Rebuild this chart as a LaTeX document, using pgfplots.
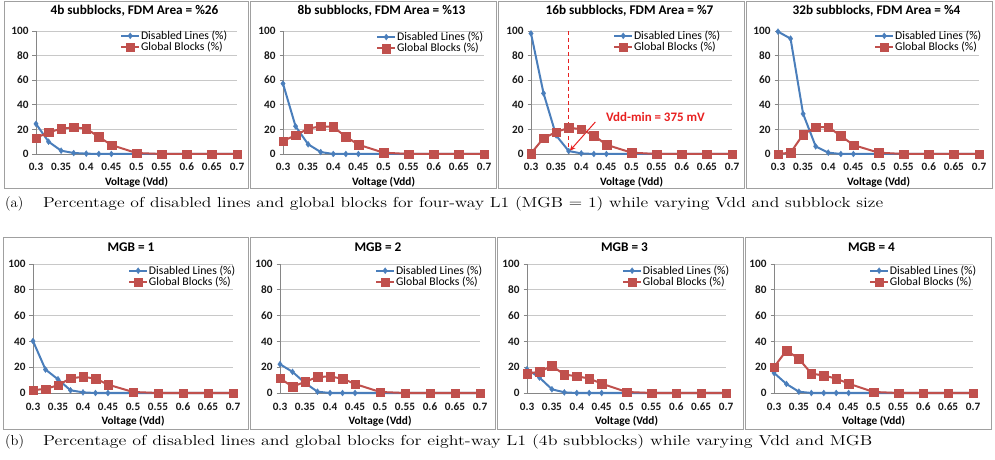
\documentclass[border=0pt]{standalone}
\usepackage{pgfplots}
\pgfplotsset{compat=1.18}
\usepackage{pgfplotstable}
\usepackage{fontspec}
\usetikzlibrary{arrows.meta}
\newfontfamily\carlito{Carlito}
\definecolor{xblue}{RGB}{74,126,187}
\definecolor{xred}{RGB}{192,80,77}
\definecolor{xgrid}{RGB}{200,200,200}
\definecolor{xaxis}{RGB}{134,134,134}
\definecolor{xframe}{RGB}{160,160,160}
\definecolor{annred}{RGB}{232,32,32}

\pgfplotstableread{
x     d1   g1   d2   g2   d3   g3   d4   g4   d5   g5   d6   g6   d7   g7   d8   g8
0.3   24.5 13.0 57.2 10.6 98.0 0.5  99.5 0.0  40.3 2.3  22.3 11.4 18.4 15.1 15.6 20.0
0.325 10.0 17.7 22.5 15.2 49.3 12.9 93.8 1.1  18.2 3.1  16.4 4.9  12.0 16.4 7.0  33.0
0.35  2.7  20.4 7.9  20.6 15.1 17.8 32.6 15.9 10.6 6.0  7.8  8.6  2.9  21.0 1.0  26.5
0.375 0.8  21.7 1.6  22.5 2.4  21.3 6.2  21.8 2.1  11.4 1.0  12.5 0.5  14.3 0.0  15.1
0.4   0.3  20.6 0.0  22.0 0.5  20.2 1.1  21.8 0.5  12.5 0.0  12.7 0.0  13.0 0.0  13.5
0.425 0.0  13.9 0.0  14.1 0.0  15.1 0.0  14.8 0.0  11.2 0.0  11.2 0.0  11.2 0.0  11.2
0.45  0.0  7.3  0.0  7.6  0.0  7.5  0.0  7.3  0.0  6.5  0.0  7.0  0.0  7.3  0.0  7.3
0.5   0.0  0.8  0.0  1.1  0.0  1.1  0.0  1.1  0.0  0.8  0.0  0.8  0.0  0.8  0.0  0.8
0.55  0.0  0.0  0.0  0.0  0.0  0.0  0.0  0.0  0.0  0.0  0.0  0.0  0.0  0.0  0.0  0.0
0.6   0.0  0.0  0.0  0.0  0.0  0.0  0.0  0.0  0.0  0.0  0.0  0.0  0.0  0.0  0.0  0.0
0.65  0.0  0.0  0.0  0.0  0.0  0.0  0.0  0.0  0.0  0.0  0.0  0.0  0.0  0.0  0.0  0.0
0.7   0.0  0.0  0.0  0.0  0.0  0.0  0.0  0.0  0.0  0.0  0.0  0.0  0.0  0.0  0.0  0.0
}\datatable

\pgfplotsset{
  panel/.style={
    scale only axis, anchor=south west, clip=false,
    xmin=0.3, xmax=0.7, ymin=0, ymax=100,
    xtick={0.3,0.35,0.4,0.45,0.5,0.55,0.6,0.65,0.7},
    xticklabels={0.3,0.35,0.4,0.45,0.5,0.55,0.6,0.65,0.7},
    ytick={0,20,40,60,80,100},
    axis lines=left, axis line style={-, xaxis, line width=0.8bp},
    ymajorgrids, grid style={xgrid, line width=0.8bp},
    x tick style={draw=none},
    y tick style={xaxis, line width=0.8bp},
    tick align=outside, major tick length=3.5bp,
    /pgf/number format/assume math mode=true,
    tick label style={font=\carlito\bfseries\fontsize{11.3}{13}\selectfont, text=black!90},
    xticklabel style={anchor=base, yshift=-13.5bp},
    yticklabel style={anchor=east, xshift=-0.5bp},
    xlabel={Voltage (Vdd)},
    xlabel style={font=\carlito\bfseries\fontsize{11.3}{13}\selectfont, at={(axis description cs:0.5,0)}, anchor=base, yshift=-31.5bp},
    legend cell align=left,
    legend image code/.code={\draw[mark repeat=2,mark phase=2,##1] plot coordinates {(0bp,0bp) (9bp,0bp) (18bp,0bp)};},
    legend style={draw=none, fill=none, inner sep=0pt, row sep=-0.3bp,
      font=\carlito\fontsize{11.8}{13}\selectfont,
      nodes={inner sep=0.8bp}},
  },
  row1/.style={panel, width=201bp, height=123bp,
    title style={font=\carlito\bfseries\fontsize{13.3}{15}\selectfont, at={(axis description cs:0.49,1)}, anchor=base, yshift=11bp}},
  row2/.style={panel, height=129bp,
    title style={font=\carlito\bfseries\fontsize{13.3}{15}\selectfont, at={(axis description cs:0.49,1)}, anchor=base, yshift=7bp}},
  dis/.style={xblue, line width=2bp, mark=diamond*, mark size=3bp, mark options={solid, fill=xblue, draw=xblue, line width=0.3bp}},
  glb/.style={xred, line width=2bp, mark=square*, mark size=4.3bp, mark options={solid, fill=xred, draw=xred, line width=0.3bp}},
}

\begin{document}
\begin{tikzpicture}
\useasboundingbox (0bp,0bp) rectangle (995bp,460bp);
% frames
\draw[xframe, line width=0.8bp] (4bp,272bp) rectangle (248bp,458.5bp);
\draw[xframe, line width=0.8bp] (250bp,272bp) rectangle (496bp,458.5bp);
\draw[xframe, line width=0.8bp] (498bp,272bp) rectangle (744bp,458.5bp);
\draw[xframe, line width=0.8bp] (746bp,272bp) rectangle (992.5bp,458.5bp);
\draw[xframe, line width=0.8bp] (3bp,31bp) rectangle (248bp,223bp);
\draw[xframe, line width=0.8bp] (250bp,31bp) rectangle (495bp,223bp);
\draw[xframe, line width=0.8bp] (497bp,31bp) rectangle (743bp,223bp);
\draw[xframe, line width=0.8bp] (745bp,31bp) rectangle (991bp,223bp);

% Row 1
\begin{axis}[row1, at={(36bp,306bp)}, title={4b subblocks, FDM Area = \%26},
  legend style={at={(axis description cs:0.418,1.01)}, anchor=north west}]
\addplot[dis] table[x=x, y=d1] {\datatable};
\addplot[glb] table[x=x, y=g1] {\datatable};
\legend{Disabled Lines (\%), Global Blocks (\%)}
\end{axis}

\begin{axis}[row1, at={(283bp,306bp)}, title={8b subblocks, FDM Area = \%13},
  legend style={at={(axis description cs:0.463,1.0)}, anchor=north west}]
\addplot[dis] table[x=x, y=d2] {\datatable};
\addplot[glb] table[x=x, y=g2] {\datatable};
\legend{Disabled Lines (\%), Global Blocks (\%)}
\end{axis}

\begin{axis}[row1, at={(531bp,306bp)}, title={16b subblocks, FDM Area = \%7},
  legend style={at={(axis description cs:0.408,1.01)}, anchor=north west}]
\addplot[annred, line width=1.3bp, dash pattern=on 4bp off 3bp, forget plot] coordinates {(0.375,0) (0.375,100)};
\addplot[dis] table[x=x, y=d3] {\datatable};
\addplot[glb] table[x=x, y=g3] {\datatable};
\legend{Disabled Lines (\%), Global Blocks (\%)}
\draw[annred, line width=1bp, -{Stealth[length=6bp,width=5bp]}] (axis cs:0.428,26) -- (axis cs:0.377,2.5);
\node[anchor=west, text=annred, font=\carlito\bfseries\fontsize{13}{15}\selectfont, inner sep=0pt] at (axis cs:0.449,30) {Vdd-min = 375 mV};
\end{axis}

\begin{axis}[row1, at={(778bp,306bp)}, title={32b subblocks, FDM Area = \%4},
  legend style={at={(axis description cs:0.478,1.01)}, anchor=north west}]
\addplot[dis] table[x=x, y=d4] {\datatable};
\addplot[glb] table[x=x, y=g4] {\datatable};
\legend{Disabled Lines (\%), Global Blocks (\%)}
\end{axis}

% Row 2
\begin{axis}[row2, width=200bp, at={(33bp,67bp)}, title={MGB = 1},
  legend style={at={(axis description cs:0.475,0.995)}, anchor=north west}]
\addplot[dis] table[x=x, y=d5] {\datatable};
\addplot[glb] table[x=x, y=g5] {\datatable};
\legend{Disabled Lines (\%), Global Blocks (\%)}
\end{axis}

\begin{axis}[row2, width=200bp, at={(280bp,67bp)}, title={MGB = 2},
  legend style={at={(axis description cs:0.475,0.995)}, anchor=north west}]
\addplot[dis] table[x=x, y=d6] {\datatable};
\addplot[glb] table[x=x, y=g6] {\datatable};
\legend{Disabled Lines (\%), Global Blocks (\%)}
\end{axis}

\begin{axis}[row2, width=199bp, at={(527bp,67bp)}, title={MGB = 3},
  legend style={at={(axis description cs:0.477,0.995)}, anchor=north west}]
\addplot[dis] table[x=x, y=d7] {\datatable};
\addplot[glb] table[x=x, y=g7] {\datatable};
\legend{Disabled Lines (\%), Global Blocks (\%)}
\end{axis}

\begin{axis}[row2, width=199bp, at={(774bp,67bp)}, title={MGB = 4},
  legend style={at={(axis description cs:0.477,0.995)}, anchor=north west}]
\addplot[dis] table[x=x, y=d8] {\datatable};
\addplot[glb] table[x=x, y=g8] {\datatable};
\legend{Disabled Lines (\%), Global Blocks (\%)}
\end{axis}

% captions
\node[anchor=west, inner sep=0pt, font=\fontsize{14.5}{16}\selectfont] at (5bp,256bp) {(a)};
\node[anchor=west, inner sep=0pt, font=\fontsize{14.5}{16}\selectfont] at (43bp,256bp) {\resizebox{840bp}{\height}{Percentage of disabled lines and global blocks for four-way L1 (MGB = 1) while varying Vdd and subblock size}};
\node[anchor=west, inner sep=0pt, font=\fontsize{14.5}{16}\selectfont] at (5bp,18bp) {(b)};
\node[anchor=west, inner sep=0pt, font=\fontsize{14.5}{16}\selectfont] at (43bp,18bp) {\resizebox{829bp}{\height}{Percentage of disabled lines and global blocks for eight-way L1 (4b subblocks) while varying Vdd and MGB}};
\end{tikzpicture}
\end{document}
